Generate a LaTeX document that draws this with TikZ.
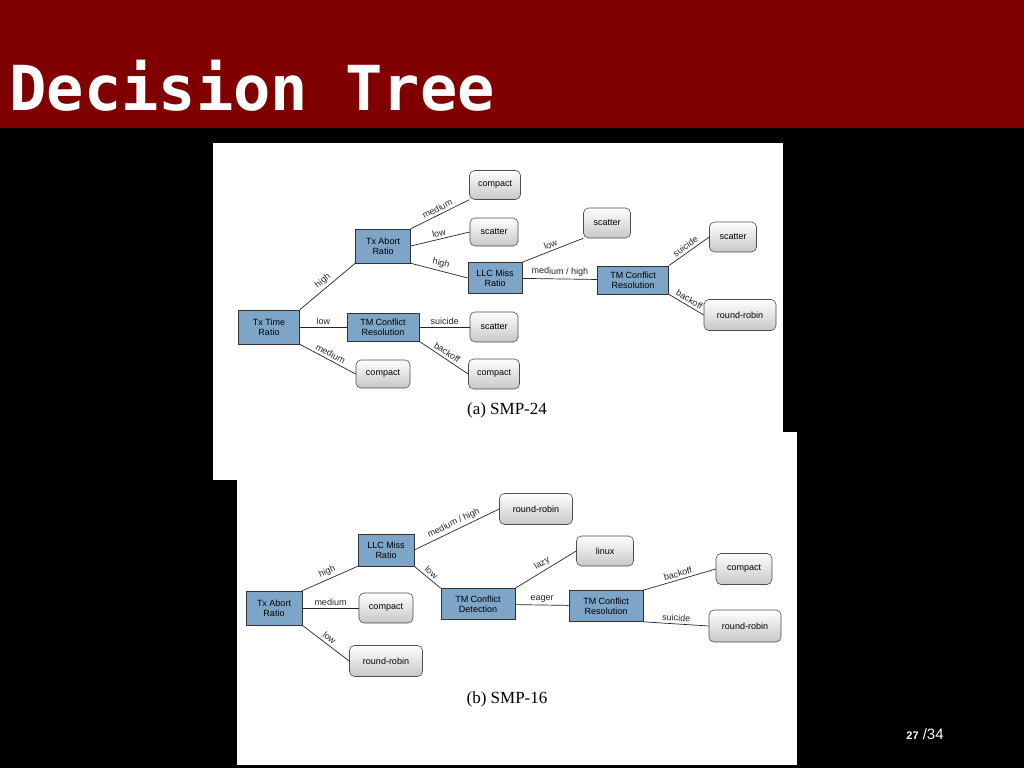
\documentclass[tikz,border=0pt]{standalone}
\usepackage{fontspec}
\setmainfont{Liberation Sans}
\newfontfamily\titlefont{DejaVu Sans Mono}
\newfontfamily\capfont{Liberation Serif}
\definecolor{hdr}{RGB}{128,0,0}
\definecolor{nblue}{RGB}{125,165,200}
\begin{document}
\begin{tikzpicture}[x=1pt,y=-1pt,
  bl/.style={draw=black!80,fill=nblue,inner sep=0pt,align=center,font=\fontsize{9}{10}\selectfont,line width=0.6pt},
  gr/.style={draw=black!70,rounded corners=5pt,top color=white,bottom color=black!22,inner sep=0pt,align=center,font=\fontsize{9}{10}\selectfont,line width=0.6pt},
  lb/.style={font=\fontsize{9}{10}\selectfont,inner sep=2.5pt,sloped,above},
  ed/.style={line width=0.7pt,black!85}]
\useasboundingbox (0,0) rectangle (1024,768);
\fill[black] (0,0) rectangle (1024,768);
\fill[hdr] (0,0) rectangle (1024,128);
\node[anchor=west,text=white,font=\titlefont\bfseries\fontsize{62}{64}\selectfont] (title) at (6,86) {Decision Tree};
\fill[white] (213,143) rectangle (783,480);
\fill[white] (237,432) rectangle (797,765);
\node[text=white,font=\fontsize{15}{16}\selectfont] (pg) at (925,734) {{\bfseries\fontsize{11}{12}\selectfont 27} /34};
% panel a
\node[bl,minimum width=61,minimum height=34] (a1) at (269,327) {Tx Time\\Ratio};
\node[bl,minimum width=55,minimum height=34] (a2) at (383,246) {Tx Abort\\Ratio};
\node[bl,minimum width=72,minimum height=28] (a3) at (383,327) {TM Conflict\\Resolution};
\node[gr,minimum width=54,minimum height=28] (a4) at (383,374) {compact};
\node[gr,minimum width=51,minimum height=29] (a5) at (495,185) {compact};
\node[gr,minimum width=48,minimum height=28] (a6) at (494,232) {scatter};
\node[bl,minimum width=54,minimum height=31] (a7) at (495,278) {LLC Miss\\Ratio};
\node[gr,minimum width=47,minimum height=30] (a8) at (607,223) {scatter};
\node[bl,minimum width=71,minimum height=28] (a9) at (633,280) {TM Conflict\\Resolution};
\node[gr,minimum width=47,minimum height=30] (a10) at (733,237) {scatter};
\node[gr,minimum width=72,minimum height=31] (a11) at (740,315) {round-robin};
\node[gr,minimum width=48,minimum height=30] (a12) at (494,327) {scatter};
\node[gr,minimum width=51,minimum height=30] (a13) at (494,374) {compact};
\node[font=\capfont\fontsize{17}{18}\selectfont] (ca) at (507,410) {(a)\ SMP-24};
\draw[ed] (a1.north east) -- node[lb]{high} (a2.south west);
\draw[ed] (a1) -- node[lb]{low} (a3);
\draw[ed] (a1.south east) -- node[lb]{medium} (a4.west);
\draw[ed] (a2.north east) -- node[lb]{medium} (a5.south west);
\draw[ed] (a2.east) -- node[lb]{low} (a6.west);
\draw[ed] (a2.south east) -- node[lb]{high} (a7.west);
\draw[ed] (a7.north east) -- node[lb]{low} (a8.south west);
\draw[ed] (a7) -- node[lb]{medium / high} (a9);
\draw[ed] (a9.north east) -- node[lb]{suicide} (a10.west);
\draw[ed] (a9.south east) -- node[lb]{backoff} (a11.west);
\draw[ed] (a3) -- node[lb]{suicide} (a12);
\draw[ed] (a3.south east) -- node[lb]{backoff} (a13.west);
% panel b
\node[bl,minimum width=56,minimum height=34] (b1) at (274,608) {Tx Abort\\Ratio};
\node[bl,minimum width=56,minimum height=32] (b2) at (386,550) {LLC Miss\\Ratio};
\node[gr,minimum width=54,minimum height=30] (b3) at (386,608) {compact};
\node[gr,minimum width=73,minimum height=31] (b4) at (386,661) {round-robin};
\node[gr,minimum width=73,minimum height=31] (b5) at (536,509) {round-robin};
\node[bl,minimum width=74,minimum height=31] (b6) at (478,604) {TM Conflict\\Detection};
\node[gr,minimum width=57,minimum height=30] (b7) at (605,551) {linux};
\node[bl,minimum width=74,minimum height=31] (b8) at (606,606) {TM Conflict\\Resolution};
\node[gr,minimum width=56,minimum height=31] (b9) at (744,569) {compact};
\node[gr,minimum width=72,minimum height=32] (b10) at (745,626) {round-robin};
\node[font=\capfont\fontsize{17}{18}\selectfont] (cb) at (507,699) {(b)\ SMP-16};
\draw[ed] (b1.north east) -- node[lb]{high} (b2.south west);
\draw[ed] (b1) -- node[lb]{medium} (b3);
\draw[ed] (b1.south east) -- node[lb]{low} (b4.west);
\draw[ed] (b2.east) -- node[lb]{medium / high} (b5.west);
\draw[ed] (b2.south east) -- node[lb]{low} (b6.north west);
\draw[ed] (b6.north east) -- node[lb]{lazy} (b7.west);
\draw[ed] (b6) -- node[lb]{eager} (b8);
\draw[ed] (b8.north east) -- node[lb]{backoff} (b9.west);
\draw[ed] (b8.south east) -- node[lb]{suicide} (b10.west);
\end{tikzpicture}
\end{document}
